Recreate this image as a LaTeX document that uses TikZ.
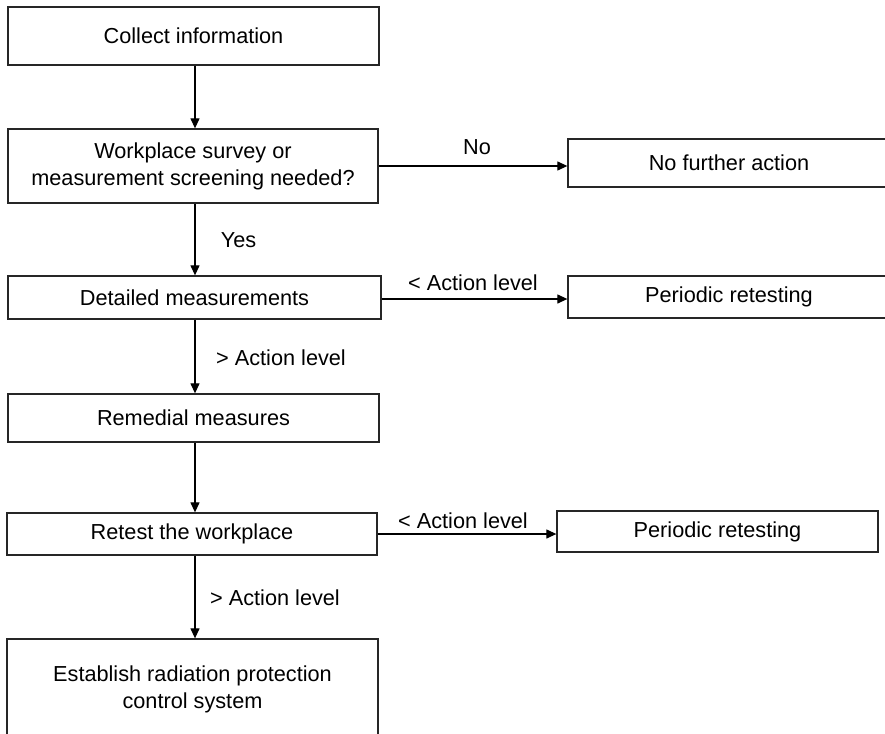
\documentclass[tikz,border=0pt]{standalone}
\usepackage{fontspec}
\setmainfont{Liberation Sans}
\usetikzlibrary{arrows.meta,calc}
\begin{document}
\begin{tikzpicture}[x=1pt,y=-1pt,
  font=\fontsize{21.7}{27}\selectfont,
  box/.style={draw=black!85,line width=1.3pt,inner sep=0pt,align=center},
  conn/.style={draw=black,line width=1.2pt,-{Triangle[length=10pt,width=9pt]}},
  lbl/.style={inner sep=0pt}]
\useasboundingbox (0,0) rectangle (885,733);
\clip (0,0) rectangle (885,733);
\node[box,minimum width=371pt,minimum height=58pt] (b1) at (193.5,36) {Collect information};
\node[box,minimum width=370pt,minimum height=74pt] (b2) at (193,166) {Workplace survey or\\measurement screening needed?};
\node[box,minimum width=322pt,minimum height=48pt] (b3) at (729,163) {No further action};
\node[box,minimum width=373pt,minimum height=43pt] (b4) at (194.5,297.5) {Detailed measurements};
\node[box,minimum width=322pt,minimum height=42pt] (b5) at (729,297) {Periodic retesting};
\node[box,minimum width=371pt,minimum height=48pt] (b6) at (193.5,418) {Remedial measures};
\node[box,minimum width=370pt,minimum height=42pt] (b7) at (192,534) {Retest the workplace};
\node[box,minimum width=321pt,minimum height=41pt] (b8) at (717.5,531.5) {Periodic retesting};
\node[box,minimum width=371pt,minimum height=101pt] (b9) at (192.5,689.5) {Establish radiation protection\\control system};
\coordinate (cx) at (195,0);
\draw[conn] (b1.south -| cx) -- (b2.north -| cx);
\draw[conn] (b2.south -| cx) -- (b4.north -| cx);
\draw[conn] (b4.south -| cx) -- (b6.north -| cx);
\draw[conn] (b6.south -| cx) -- (b7.north -| cx);
\draw[conn] (b7.south -| cx) -- (b9.north -| cx);
\draw[conn] (b2.east) -- (b2.east -| b3.west);
\draw[conn] (b4.east) ++(0,1.5) coordinate (p4) -- (p4 -| b5.west);
\draw[conn] (b7.east) -- (b7.east -| b8.west);
\node[lbl] (l1) at (477,147) {No};
\node[lbl] (l2) at (238.5,240) {Yes};
\node[lbl] (l3) at (473,283) {< Action level};
\node[lbl] (l4) at (281,358) {> Action level};
\node[lbl] (l5) at (463,521) {< Action level};
\node[lbl] (l6) at (275,598) {> Action level};
\end{tikzpicture}
\end{document}
